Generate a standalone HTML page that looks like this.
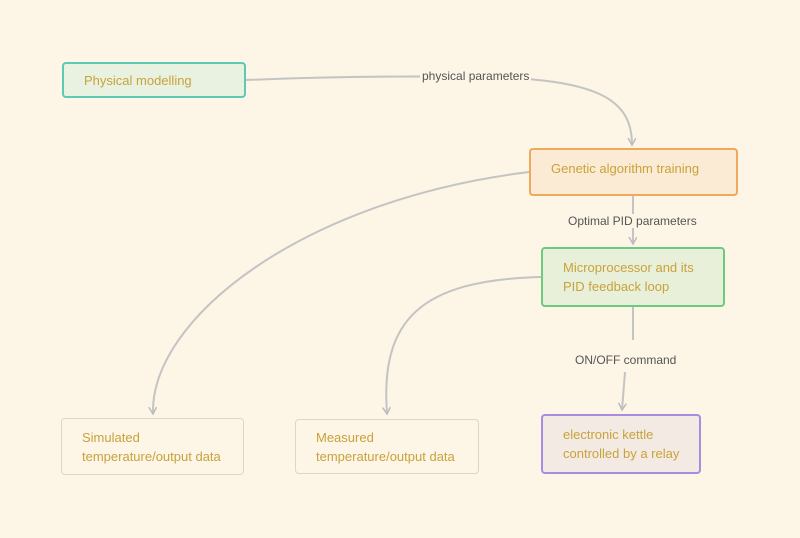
<!DOCTYPE html>
<html><head><style>
body{margin:0;width:800px;height:538px;background:#fdf5e6;font-family:"Liberation Sans",sans-serif;overflow:hidden;position:relative}
.b{position:absolute;box-sizing:border-box;border-radius:4px;border:2px solid;color:#c8a23c;font-size:13px;line-height:19px;padding-left:20px;display:flex;align-items:center}
.l{position:absolute;font-size:12px;color:#555;background:#fdf5e6;padding:0 2px}
</style></head><body>
<svg width="800" height="538" style="position:absolute;left:0;top:0">
<defs><marker id="a" markerWidth="10" markerHeight="10" refX="7" refY="4" orient="auto" markerUnits="userSpaceOnUse"><path d="M0,0 L7,4 L0,8" fill="none" stroke="#bbb" stroke-width="1.5"/></marker></defs>
<g fill="none" stroke="#c4c4c4" stroke-width="2">
<path d="M246,80 C350,76 420,76 476,77 C600,78 632,100 632,145" marker-end="url(#a)"/>
<path d="M633,196 L633,244" marker-end="url(#a)"/>
<path d="M633,307 L633,340 M625,372 L622,410" marker-end="url(#a)"/>
<path d="M529,172 C300,200 150,320 153,414" marker-end="url(#a)"/>
<path d="M541,277 C420,280 380,320 387,414" marker-end="url(#a)"/>
</g>
</svg>
<div class="l" style="left:420px;top:69px">physical parameters</div>
<div class="l" style="left:566px;top:214px">Optimal PID parameters</div>
<div class="l" style="left:573px;top:353px">ON/OFF command</div>
<div class="b" style="left:62px;top:62px;width:184px;height:36px;border-color:#5cc9b8;background:#e9f2e0">Physical modelling</div>
<div class="b" style="left:529px;top:148px;width:209px;height:48px;border-color:#f0a95a;background:#fcebd4;align-items:flex-start;padding-top:9px">Genetic algorithm training</div>
<div class="b" style="left:541px;top:247px;width:184px;height:60px;border-color:#69cc7e;background:#e9f0d9">Microprocessor and its<br>PID feedback loop</div>
<div class="b" style="left:61px;top:418px;width:183px;height:57px;border-color:#ddd6c6;border-width:1.5px;background:#fdf5e6">Simulated<br>temperature/output data</div>
<div class="b" style="left:295px;top:419px;width:184px;height:55px;border-color:#ddd6c6;border-width:1.5px;background:#fdf5e6">Measured<br>temperature/output data</div>
<div class="b" style="left:541px;top:414px;width:160px;height:60px;border-color:#a98be0;background:#f3ebe3">electronic kettle<br>controlled by a relay</div>
</body></html>
